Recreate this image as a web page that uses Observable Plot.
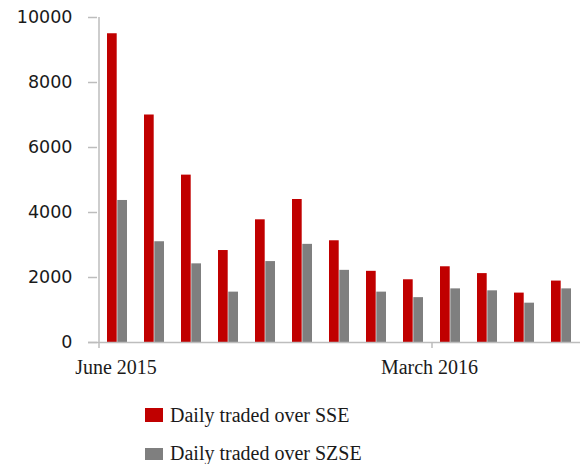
<!DOCTYPE html>
<html>
<head>
<meta charset="utf-8">
<script src="https://cdn.jsdelivr.net/npm/d3@7"></script>
<script src="https://cdn.jsdelivr.net/npm/@observablehq/plot@0.6"></script>
<style>
  html, body { margin: 0; padding: 0; background: #fff; }
  #legend { font-family: "Liberation Serif", "Times New Roman", serif; font-size: 20px; color: #1a1a1a; margin-top: 6px; padding-left: 145px; }
  .row { height: 38px; line-height: 38px; white-space: nowrap; }
  .sw { display: inline-block; width: 18px; margin-right: 7px; vertical-align: baseline; }
</style>
</head>
<body>
<div id="chart"></div>
<div id="legend"></div>
<script>
const months = ["June 2015","July 2015","August 2015","September 2015","October 2015","November 2015","December 2015","January 2016","February 2016","March 2016","April 2016","May 2016","June 2016"];
const sse  = [9500, 7000, 5150, 2830, 3775, 4400, 3130, 2190, 1930, 2330, 2120, 1520, 1890];
const szse = [4370, 3100, 2420, 1550, 2490, 3020, 2220, 1550, 1380, 1650, 1590, 1210, 1650];
const seriesNames = ["Daily traded over SSE", "Daily traded over SZSE"];
const seriesColors = ["#c00000", "#7f7f7f"];
const yTicks = [0, 2000, 4000, 6000, 8000, 10000];
const tickLabels = ["June 2015", "March 2016"];

const axisColor = "#bdbdbd";
const half = -18.5;

const chart = Plot.plot({
  width: 582,
  height: 390,
  marginLeft: 97,
  marginRight: 0,
  marginTop: 17,
  marginBottom: 48,
  x: {type: "band", domain: months, paddingInner: 0.45, paddingOuter: 0.213, axis: null},
  y: {domain: [0, 10000], axis: null},
  marks: [
    Plot.barY(months, {x: d => d, y: (d, i) => sse[i], fill: seriesColors[0], insetRight: 10.3}),
    Plot.barY(months, {x: d => d, y: (d, i) => szse[i], fill: seriesColors[1], insetLeft: 10.3}),
    Plot.ruleY([0], {stroke: axisColor, strokeWidth: 1.5, insetLeft: -9, insetRight: 2}),
    Plot.ruleX([months[0]], {x: d => d, dx: half, stroke: axisColor, strokeWidth: 1.5, insetBottom: -6}),
    Plot.ruleX([tickLabels[1]], {x: d => d, dx: half, y1: 0, y2: 0, stroke: axisColor, strokeWidth: 1.5, insetBottom: -6}),
    Plot.axisY({ticks: yTicks, tickSize: 9, tickPadding: 16, tickFormat: d3.format("d"), stroke: axisColor, strokeWidth: 1.5, strokeOpacity: 1, fill: "#1a1a1a", fontSize: 17.5, fontFamily: "DejaVu Sans"}),
    Plot.text([tickLabels[0]], {x: d => d, text: d => d, frameAnchor: "bottom", lineAnchor: "bottom", dy: 31, dx: -1.5, fontSize: 20, fontFamily: "Liberation Serif", fill: "#1a1a1a"}),
    Plot.text([tickLabels[1]], {x: d => d, text: d => d, frameAnchor: "bottom", lineAnchor: "bottom", dy: 31, dx: -21, fontSize: 20, fontFamily: "Liberation Serif", fill: "#1a1a1a"})
  ]
});
document.getElementById("chart").appendChild(chart);

const legend = document.getElementById("legend");
const swHeights = [14, 12];
seriesNames.forEach((name, i) => {
  const row = document.createElement("div");
  row.className = "row";
  const sw = document.createElement("span");
  sw.className = "sw";
  sw.style.background = seriesColors[i];
  sw.style.height = swHeights[i] + "px";
  row.appendChild(sw);
  row.appendChild(document.createTextNode(name));
  legend.appendChild(row);
});
</script>
</body>
</html>
